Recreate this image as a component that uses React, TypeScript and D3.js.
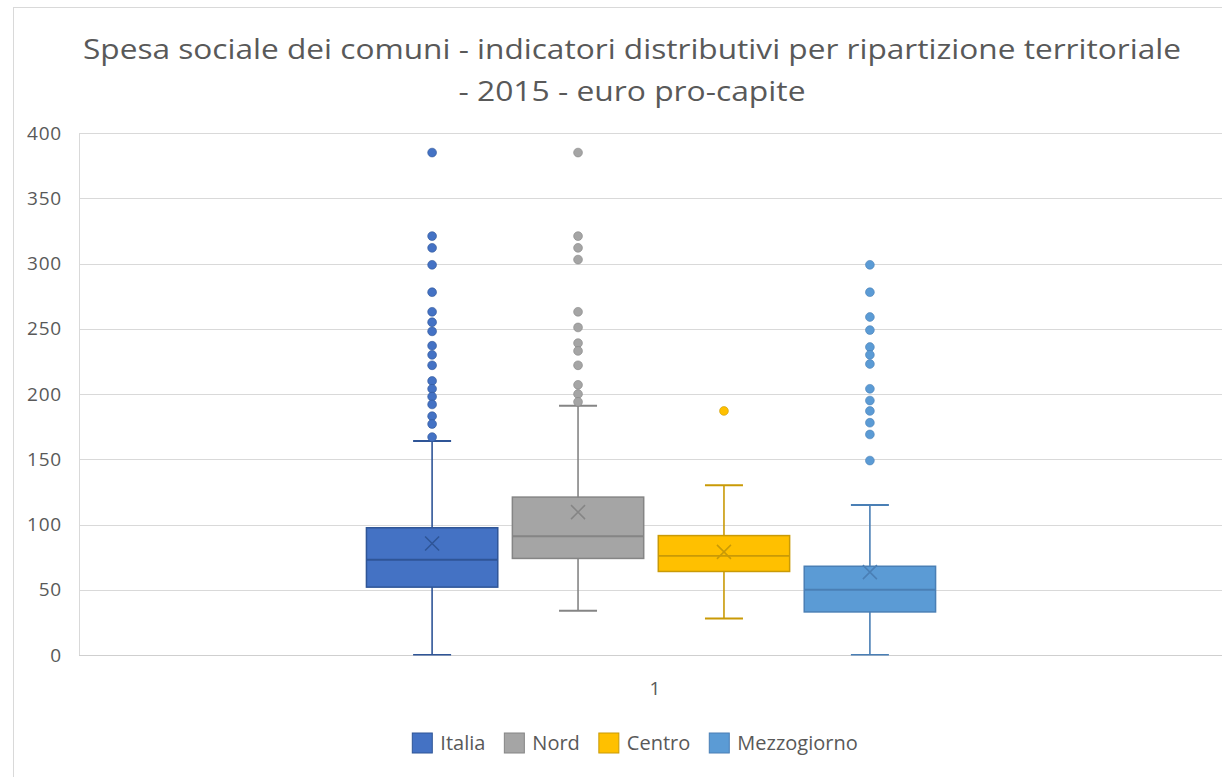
import React, { useEffect, useRef } from 'react';
import * as d3 from 'd3';

// values (euro pro-capite)
const categories = ['1'];
const seriesNames = ['Italia', 'Nord', 'Centro', 'Mezzogiorno'];
const fillColors = ['#4472C4', '#A5A5A5', '#FFC000', '#5B9BD5'];
const lineColors = ['#2F5597', '#858585', '#C99A06', '#4A7FB5'];
const whiskerLow = [0, 34, 28, 0];
const q1 = [52, 74, 64, 33];
const median = [73, 91, 76, 50];
const q3 = [97.5, 121, 91.5, 68];
const whiskerHigh = [164, 191, 130, 115];
const means = [85.5, 109.5, 79, 63.5];
const outItalia = [385, 321, 312, 299, 278, 263, 255, 248, 237, 230, 222, 210, 204, 198, 192, 183, 177, 167];
const outNord = [385, 321, 312, 303, 263, 251, 239, 233, 222, 207, 200, 194];
const outCentro = [187];
const outMezzogiorno = [299, 278, 259, 249, 236, 230, 223, 204, 195, 187, 178, 169, 149];
const outliers = [outItalia, outNord, outCentro, outMezzogiorno];
const yTicks = [0, 50, 100, 150, 200, 250, 300, 350, 400];
const titleLines = [
  'Spesa sociale dei comuni - indicatori distributivi per ripartizione territoriale',
  '- 2015 - euro pro-capite',
];

const W = 1222;
const H = 777;
const FONT = "'Open Sans', 'Noto Sans', sans-serif";
const TEXT = '#595959';
const GRID = '#d9d9d9';

function BoxChart() {
  const ref = useRef(null);

  useEffect(() => {
    const svg = d3.select(ref.current);
    svg.selectAll('*').remove();

    const plot = { left: 79, right: 1223, top: 133, bottom: 655 };

    // chart frame (cut off on the right / bottom in the reference)
    svg.append('rect')
      .attr('x', 13.5).attr('y', 7.5)
      .attr('width', 1400).attr('height', 1000)
      .attr('fill', '#fff').attr('stroke', GRID);

    // title
    const tw = [1098, 347];
    svg.append('g').selectAll('text')
      .data(titleLines)
      .enter().append('text')
        .attr('x', 632)
        .attr('y', (d, i) => 59 + i * 42)
        .attr('text-anchor', 'middle')
        .attr('textLength', (d, i) => tw[i])
        .attr('lengthAdjust', 'spacingAndGlyphs')
        .style('font-family', FONT)
        .style('font-size', '28px')
        .attr('fill', TEXT)
        .text(d => d);

    const y = d3.scaleLinear().domain([0, 400]).range([plot.bottom, plot.top]);
    const x0 = d3.scaleBand().domain(categories).range([plot.left, plot.right]);
    const groupW = x0.bandwidth() * 0.4975;
    const x1 = d3.scaleBand().domain(seriesNames)
      .range([-groupW / 2, groupW / 2]).paddingInner(0.1).paddingOuter(0);

    // grid
    svg.append('g').selectAll('line')
      .data(yTicks)
      .enter().append('line')
        .attr('x1', plot.left).attr('x2', plot.right)
        .attr('y1', d => Math.round(y(d)) + 0.5).attr('y2', d => Math.round(y(d)) + 0.5)
        .attr('stroke', d => d === 0 ? '#cfcfcf' : GRID)
        .attr('stroke-width', 1.2);
    svg.append('line')
      .attr('x1', plot.left + 0.5).attr('x2', plot.left + 0.5)
      .attr('y1', plot.top).attr('y2', plot.bottom)
      .attr('stroke', GRID);

    // y labels
    svg.append('g').selectAll('text')
      .data(yTicks)
      .enter().append('text')
        .attr('x', 62)
        .attr('y', d => y(d))
        .attr('dy', '0.35em')
        .attr('text-anchor', 'end')
        .style('font-family', FONT)
        .style('font-size', '19px')
        .style('letter-spacing', '0.8px')
        .attr('fill', TEXT)
        .text(d => d);

    // category label
    svg.append('g').selectAll('text')
      .data(categories)
      .enter().append('text')
        .attr('x', d => x0(d) + x0.bandwidth() / 2 + 4)
        .attr('y', 688)
        .attr('dy', '0.35em')
        .attr('text-anchor', 'middle')
        .style('font-family', FONT)
        .style('font-size', '19px')
        .attr('fill', TEXT)
        .text(d => d);

    svg.append('clipPath').attr('id', 'plotclip')
      .append('rect')
        .attr('x', plot.left).attr('y', plot.top)
        .attr('width', plot.right - plot.left).attr('height', plot.bottom - plot.top + 0.5);

    const rows = seriesNames.map((name, i) => ({
      name, i,
      lo: whiskerLow[i], q1: q1[i], med: median[i], q3: q3[i], hi: whiskerHigh[i],
      mean: means[i], out: outliers[i],
    }));

    const cat = categories[0];
    const cx0 = x0(cat) + x0.bandwidth() / 2;
    const bw = x1.bandwidth();
    const capW = 38;

    const boxes = svg.append('g').attr('clip-path', 'url(#plotclip)')
      .selectAll('g')
      .data(rows)
      .enter().append('g')
        .attr('transform', d => `translate(${cx0 + x1(d.name)}, 0)`);

    // whiskers
    boxes.append('line')
      .attr('x1', bw / 2).attr('x2', bw / 2)
      .attr('y1', d => y(d.lo)).attr('y2', d => y(d.hi))
      .attr('stroke', d => lineColors[d.i]).attr('stroke-width', 1.6);
    boxes.selectAll('.cap')
      .data(d => [d.lo, d.hi].map(v => ({ v, i: d.i })))
      .enter().append('line')
        .attr('class', 'cap')
        .attr('x1', bw / 2 - capW / 2).attr('x2', bw / 2 + capW / 2)
        .attr('y1', d => y(d.v)).attr('y2', d => y(d.v))
        .attr('stroke', d => lineColors[d.i]).attr('stroke-width', 2);

    // box
    boxes.append('rect')
      .attr('x', 0).attr('width', bw)
      .attr('y', d => y(d.q3)).attr('height', d => y(d.q1) - y(d.q3))
      .attr('fill', d => fillColors[d.i])
      .attr('stroke', d => lineColors[d.i]).attr('stroke-width', 1.5);
    boxes.append('line')
      .attr('x1', 0).attr('x2', bw)
      .attr('y1', d => y(d.med)).attr('y2', d => y(d.med))
      .attr('stroke', d => lineColors[d.i]).attr('stroke-width', 1.8);

    // mean marker
    const m = 7;
    boxes.append('path')
      .attr('d', d => {
        const cy = y(d.mean), cx = bw / 2;
        return `M${cx - m},${cy - m}L${cx + m},${cy + m}M${cx - m},${cy + m}L${cx + m},${cy - m}`;
      })
      .attr('stroke', d => lineColors[d.i]).attr('stroke-width', 1.5)
      .attr('fill', 'none');

    // outliers
    boxes.selectAll('circle')
      .data(d => d.out.map(v => ({ v, i: d.i })))
      .enter().append('circle')
        .attr('cx', bw / 2)
        .attr('cy', d => y(d.v))
        .attr('r', 4.4)
        .attr('fill', d => fillColors[d.i])
        .attr('stroke', d => lineColors[d.i])
        .attr('stroke-width', 0.6);

    // legend
    const sq = 20;
    const legend = svg.append('g');
    const items = legend.selectAll('g')
      .data(seriesNames)
      .enter().append('g');
    items.append('rect')
      .attr('width', sq).attr('height', sq)
      .attr('y', -sq / 2)
      .attr('fill', (d, i) => fillColors[i])
      .attr('stroke', (d, i) => lineColors[i]).attr('stroke-width', 1);
    items.append('text')
      .attr('x', sq + 8)
      .attr('dy', '0.35em')
      .style('font-family', FONT)
      .style('font-size', '20px')
      .attr('fill', TEXT)
      .text(d => d);
    let off = 0;
    const offs = [];
    items.each(function () {
      offs.push(off);
      const tl = (d3.select(this).select('text').node() as any).getComputedTextLength();
      off += sq + 8 + tl + 19;
    });
    const total = off - 19;
    const startX = 635 - total / 2;
    items.attr('transform', (d, i) => `translate(${startX + offs[i]}, 743)`);
  }, []);

  return <svg ref={ref} width={W} height={H} style={{ position: 'absolute', left: 0, top: 0, display: 'block', background: '#fff' }} />;
}

export default function App() {
  return <BoxChart />;
}
